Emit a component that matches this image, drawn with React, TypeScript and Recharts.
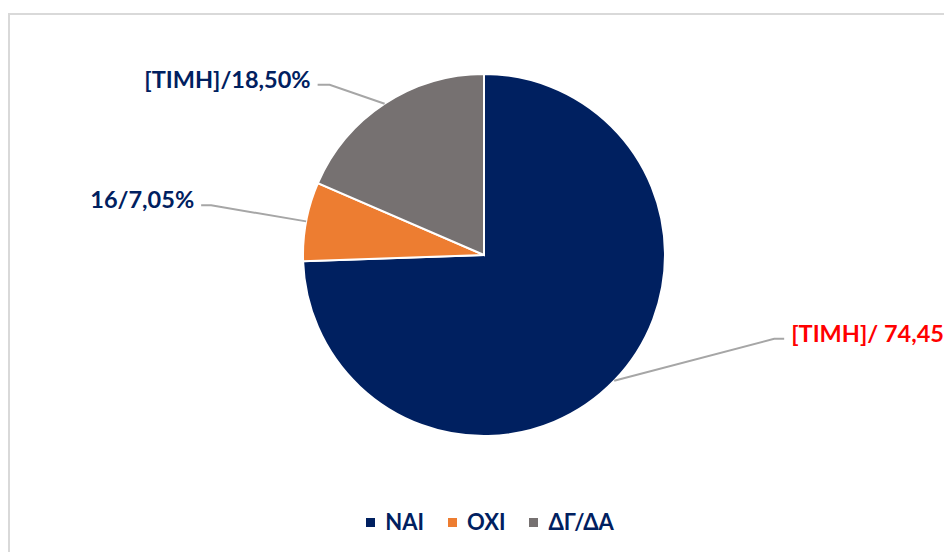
import { Cell, Legend, Pie, PieChart } from "recharts";

const categories = ["ΝΑΙ", "ΟΧΙ", "ΔΓ/ΔΑ"];
const shares = [74.45, 7.05, 18.5];
const labelTexts = ["[ΤΙΜΗ]/ 74,45%", "16/7,05%", "[ΤΙΜΗ]/18,50%"];

const COLORS = ["#002060", "#ED7D31", "#767171"];
const LABEL_COLORS = ["#FF0000", "#002060", "#002060"];
const FONT = "Lato, 'Open Sans', sans-serif";
const RADIAN = Math.PI / 180;

// hand-placed callouts, relative to the slice's outer edge point
const CALLOUTS = [
  { dx: 160, dy: -42, run: 10 },
  { dx: -95, dy: -16, run: -10 },
  { dx: -55, dy: -19, run: -12 },
];

const data = categories.map((name, i) => ({ name, value: shares[i], label: labelTexts[i] }));

function renderLabel(props: any) {
  const { cx, cy, midAngle, outerRadius, index } = props;
  const c = CALLOUTS[index];
  const x0 = cx + outerRadius * Math.cos(-midAngle * RADIAN);
  const y0 = cy + outerRadius * Math.sin(-midAngle * RADIAN);
  const x1 = x0 + c.dx;
  const y1 = y0 + c.dy;
  const x2 = x1 + c.run;
  const right = c.run > 0;
  return (
    <g key={`lbl-${index}`}>
      <polyline
        points={`${x0},${y0} ${x1},${y1} ${x2},${y1}`}
        fill="none"
        stroke="#A6A6A6"
        strokeWidth={2}
      />
      <text
        x={right ? x2 + 7 : x2 - 7}
        y={y1 + 3}
        textAnchor={right ? "start" : "end"}
        fill={LABEL_COLORS[index]}
        fontFamily={FONT}
        fontWeight={700}
        fontSize={23.5}
      >
        {data[index].label}
      </text>
    </g>
  );
}

function renderLegend() {
  return (
    <div
      style={{
        display: "flex",
        justifyContent: "center",
        gap: 24,
        fontFamily: FONT,
        fontWeight: 700,
        fontSize: 22,
        lineHeight: "24px",
        color: "#002060",
      }}
    >
      {data.map((d, i) => (
        <div key={d.name} style={{ display: "flex", alignItems: "center" }}>
          <span
            style={{ width: 9, height: 9, background: COLORS[i], marginRight: 10, display: "inline-block" }}
          />
          <span>{d.name}</span>
        </div>
      ))}
    </div>
  );
}

export default function App() {
  return (
    <div
      style={{
        position: "absolute",
        left: 0,
        top: 0,
        width: 944,
        height: 552,
        overflow: "hidden",
        background: "#fff",
      }}
    >
      <div
        style={{
          position: "absolute",
          left: 8,
          top: 13,
          width: 1000,
          height: 700,
          border: "2px solid #D9D9D9",
        }}
      />
      <div style={{ position: "absolute", left: 0, top: 0 }}>
        <PieChart width={944} height={552} margin={{ top: 0, right: 0, bottom: 0, left: 0 }}>
          <Pie
            data={data}
            dataKey="value"
            nameKey="name"
            cx={484}
            cy={255}
            outerRadius={181}
            startAngle={90}
            endAngle={-270}
            stroke="#FFFFFF"
            strokeWidth={2}
            label={renderLabel}
            labelLine={false}
            isAnimationActive={false}
          >
            {data.map((d, i) => (
              <Cell key={d.name} fill={COLORS[i]} />
            ))}
          </Pie>
          <Legend
            content={renderLegend}
            verticalAlign="bottom"
            wrapperStyle={{ bottom: 18, left: 0, width: 980 }}
          />
        </PieChart>
      </div>
    </div>
  );
}
